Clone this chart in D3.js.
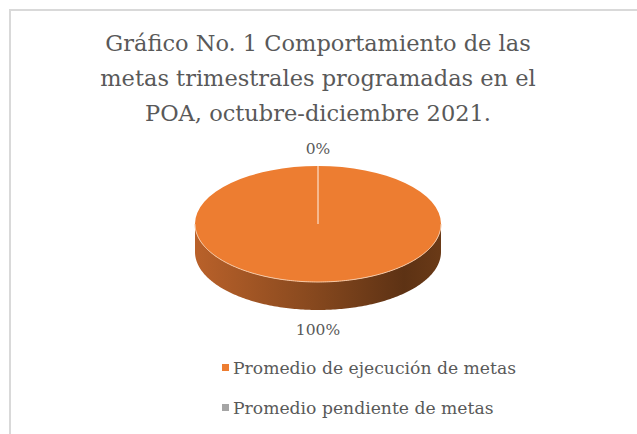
<!DOCTYPE html>
<html>
<head>
<meta charset="utf-8">
<script src="https://cdn.jsdelivr.net/npm/d3@7"></script>
<style>
  body { margin: 0; background: #fff; }
  svg { display: block; }
</style>
</head>
<body>
<div id="chart"></div>
<script>
// datos del grafico
var categories = ["Promedio de ejecución de metas", "Promedio pendiente de metas"];
var values = [100, 0];
var labels = ["100%", "0%"];
var colors = ["#ED7D31", "#A5A5A5"];
var titleLines = ["Gráfico No. 1 Comportamiento de las",
                  "metas trimestrales programadas en el",
                  "POA, octubre-diciembre 2021."];

var width = 637, height = 434;
var cx = 318, cy = 224, rx = 123, ry = 58, depth = 28;
var fontFam = "'DejaVu Serif', 'Liberation Serif', serif";

var svg = d3.select("#chart").append("svg")
    .attr("width", width)
    .attr("height", height)
    .attr("font-family", fontFam);

// marco
svg.append("rect")
    .attr("x", 10).attr("y", 10)
    .attr("width", 660).attr("height", 460)
    .attr("fill", "none")
    .attr("stroke", "#d9d9d9")
    .attr("stroke-width", 2);

// titulo
var title = svg.append("g").selectAll("text")
    .data(titleLines)
    .enter()
    .append("text")
    .attr("x", cx)
    .attr("y", function (d, i) { return 51 + i * 35; })
    .attr("text-anchor", "middle")
    .attr("fill", "#595959")
    .attr("font-size", 22.5)
    .text(function (d) { return d; });

var defs = svg.append("defs");
var grad = defs.append("linearGradient")
    .attr("id", "side")
    .attr("x1", "0%").attr("x2", "100%")
    .attr("y1", "0%").attr("y2", "0%");
grad.append("stop").attr("offset", "0%").attr("stop-color", "#b9612a");
grad.append("stop").attr("offset", "45%").attr("stop-color", "#8a4a1f");
grad.append("stop").attr("offset", "85%").attr("stop-color", "#5d3214");
grad.append("stop").attr("offset", "100%").attr("stop-color", "#6a3a17");

var pie = d3.pie().sort(null).value(function (d) { return d; });
var arcs = pie(values);

var g = svg.append("g").attr("transform", "translate(" + cx + "," + cy + ")");

// pared lateral (mitad frontal de la elipse)
var sideArc = d3.range(0, 181).map(function (a) {
    var t = a * Math.PI / 180;
    return [rx * Math.cos(t), ry * Math.sin(t)];
});
var sidePath = "M" + (-rx) + ",0" +
    "L" + (-rx) + "," + depth +
    sideArc.slice().reverse().map(function (p) { return "L" + p[0] + "," + (p[1] + depth); }).join("") +
    "L" + rx + ",0" +
    sideArc.map(function (p) { return "L" + p[0] + "," + p[1]; }).join("") + "Z";
g.append("path")
    .attr("d", sidePath)
    .attr("fill", "url(#side)");

// cara superior
var arc = d3.arc().innerRadius(0).outerRadius(rx);
g.append("g")
    .attr("transform", "scale(1," + (ry / rx) + ")")
    .selectAll("path")
    .data(arcs)
    .enter()
    .append("path")
    .attr("d", arc)
    .attr("fill", function (d, i) { return colors[i]; });

// borde claro entre cara y lateral
g.append("path")
    .attr("d", "M" + sideArc.map(function (p) { return p[0] + "," + p[1]; }).join("L"))
    .attr("fill", "none")
    .attr("stroke", "#f6c7a4")
    .attr("stroke-width", 1);

// separadores de sectores
g.selectAll("line.sep")
    .data(arcs)
    .enter()
    .append("line")
    .attr("class", "sep")
    .attr("x1", 0).attr("y1", 0)
    .attr("x2", function (d) { return rx * Math.sin(d.startAngle); })
    .attr("y2", function (d) { return -ry * Math.cos(d.startAngle); })
    .attr("stroke", "#f8cbad")
    .attr("stroke-width", 1);

// etiquetas de datos
g.selectAll("text.lbl")
    .data(arcs)
    .enter()
    .append("text")
    .attr("class", "lbl")
    .attr("text-anchor", "middle")
    .attr("fill", "#595959")
    .attr("x", function (d) {
        var m = (d.startAngle + d.endAngle) / 2;
        return (rx + 10) * Math.sin(m);
    })
    .attr("y", function (d) {
        var m = (d.startAngle + d.endAngle) / 2;
        var y = -(ry + 10) * Math.cos(m);
        return y > 0 ? y + depth + 15 : y - 2;
    })
    .attr("font-size", 15.5)
    .text(function (d, i) { return labels[i]; });

// leyenda
var legend = svg.append("g").selectAll("g")
    .data(categories)
    .enter()
    .append("g")
    .attr("transform", function (d, i) { return "translate(222," + (374 + i * 40) + ")"; });
legend.append("rect")
    .attr("x", 0).attr("y", -10)
    .attr("width", 7).attr("height", 7)
    .attr("fill", function (d, i) { return colors[i]; });
legend.append("text")
    .attr("x", 11).attr("y", 0)
    .attr("fill", "#595959")
    .attr("font-size", 17.2)
    .text(function (d) { return d; });
</script>
</body>
</html>
